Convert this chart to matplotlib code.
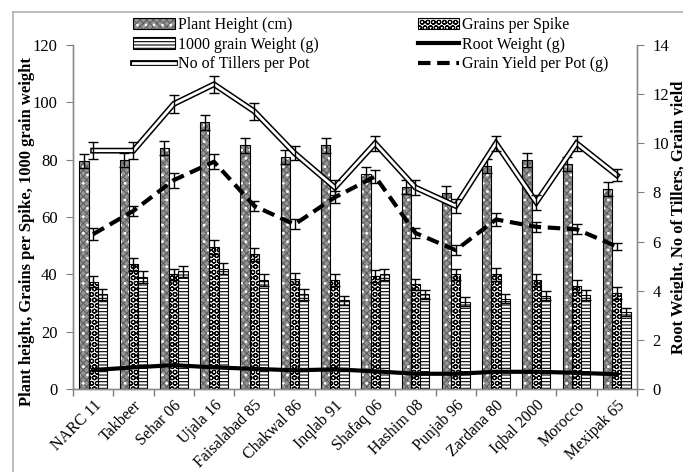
import numpy as np
import matplotlib
matplotlib.use("Agg")
import matplotlib.pyplot as plt
from matplotlib.patches import Patch
from matplotlib.lines import Line2D
from matplotlib.legend_handler import HandlerTuple

plt.rcParams['font.family'] = ['Liberation Serif', 'DejaVu Serif']
plt.rcParams['hatch.linewidth'] = 0.8

varieties = ["NARC 11", "Takbeer", "Sehar 06", "Ujala 16", "Faisalabad 85", "Chakwal 86",
             "Inqlab 91", "Shafaq 06", "Hashim 08", "Punjab 96", "Zardana 80", "Iqbal 2000",
             "Morocco", "Mexipak 65"]

plant_height = [79.5, 80.0, 84.0, 93.0, 85.0, 81.0, 85.0, 75.0, 70.5, 68.2, 77.8, 79.8, 78.5, 69.7]
plant_height_err = [2.5, 2.5, 2.5, 2.7, 2.5, 2.5, 2.5, 2.5, 2.5, 2.5, 2.5, 2.5, 2.5, 2.5]
grains_spike = [37.5, 43.5, 40.0, 49.5, 47.0, 38.5, 38.0, 39.5, 36.5, 40.0, 40.0, 38.0, 36.0, 33.5]
grains_spike_err = [2.0, 2.2, 2.0, 2.5, 2.3, 2.0, 2.0, 2.0, 2.0, 2.0, 2.2, 2.0, 2.0, 2.0]
grain_weight = [33.0, 39.0, 41.0, 42.0, 38.0, 33.0, 31.0, 40.0, 33.0, 30.5, 31.5, 32.6, 32.8, 27.0]
grain_weight_err = [1.8, 2.0, 2.0, 2.0, 2.0, 1.8, 1.6, 2.0, 1.6, 1.6, 1.6, 1.6, 1.6, 1.4]

root_weight = [0.77, 0.88, 0.97, 0.88, 0.82, 0.76, 0.80, 0.72, 0.62, 0.62, 0.70, 0.70, 0.66, 0.60]
tillers = [9.7, 9.7, 11.6, 12.4, 11.3, 9.6, 8.2, 10.0, 8.2, 7.45, 10.0, 7.6, 10.0, 8.7]
tillers_err = [0.35, 0.35, 0.35, 0.35, 0.35, 0.3, 0.3, 0.3, 0.3, 0.3, 0.3, 0.3, 0.3, 0.25]
grain_yield = [6.3, 7.25, 8.5, 9.25, 7.45, 6.7, 7.8, 8.65, 6.35, 5.65, 6.9, 6.6, 6.5, 5.8]
grain_yield_err = [0.25, 0.2, 0.3, 0.3, 0.2, 0.2, 0.25, 0.25, 0.2, 0.2, 0.25, 0.2, 0.2, 0.15]

W, H = 683, 472
fig = plt.figure(figsize=(W / 100, H / 100), dpi=100)
ax = fig.add_axes([73 / W, 1 - 389 / H, (637 - 73) / W, (389 - 45) / H])
ax2 = ax.twinx()

x = np.arange(len(varieties))
bw = 0.23
ekw = dict(ecolor='black', elinewidth=1, capsize=3.5, capthick=1)

# Plant height: grey with white dots
xp = x - bw
ax.bar(xp, plant_height, bw, color='#959595', edgecolor='#606060', hatch='xxxxx', linewidth=0, zorder=2)
ax.bar(xp, plant_height, bw, color='none', edgecolor='white', hatch='..', linewidth=0, zorder=3)
ax.bar(xp, plant_height, bw, color='none', edgecolor='black', linewidth=0.8, zorder=4)
ax.errorbar(xp, plant_height, yerr=plant_height_err, fmt='none', zorder=5, **ekw)

# Grains per spike: circles
ax.bar(x, grains_spike, bw, color='white', edgecolor='black', hatch='OOO', linewidth=0.8, zorder=2)
ax.errorbar(x, grains_spike, yerr=grains_spike_err, fmt='none', zorder=5, **ekw)

# 1000 grain weight: horizontal stripes
xg = x + bw
ax.bar(xg, grain_weight, bw, color='white', edgecolor='black', hatch='-----', linewidth=0.8, zorder=2)
ax.errorbar(xg, grain_weight, yerr=grain_weight_err, fmt='none', zorder=5, **ekw)

# lines on right axis
ax2.plot(x, root_weight, color='black', lw=3, zorder=3)
ax2.plot(x, tillers, color='black', lw=4.2, zorder=3, solid_joinstyle='miter')
ax2.plot(x, tillers, color='white', lw=2.0, zorder=4, solid_joinstyle='miter')
ax2.errorbar(x, tillers, yerr=tillers_err, fmt='none', zorder=5, **ekw)
ax2.plot(x, grain_yield, color='black', lw=3, ls=(0, (3, 1.6)), zorder=3)
ax2.errorbar(x, grain_yield, yerr=grain_yield_err, fmt='none', zorder=5, **ekw)

ax.set_xlim(-0.5, len(varieties) - 0.5)
ax.set_ylim(0, 120)
ax2.set_ylim(0, 14)
ax.set_yticks(np.arange(0, 121, 20))
ax2.set_yticks(np.arange(0, 15, 2))
ax.set_xticks(x)
ax.set_xticklabels(varieties, rotation=45, ha='right', rotation_mode='anchor', fontsize=11.5)
ax.set_xticks(np.arange(-0.5, len(varieties), 1), minor=True)
ax.tick_params(axis='x', which='major', length=0, pad=6)
ax.tick_params(axis='x', which='minor', length=5, color='#808080', width=1, direction='out')
ax.tick_params(axis='y', length=5, color='#808080', labelsize=12, pad=6)
ax2.tick_params(axis='y', length=5, color='#808080', labelsize=12, pad=6)

for a in (ax, ax2):
    a.spines['top'].set_visible(False)
    for s in ('left', 'right', 'bottom'):
        a.spines[s].set_color('#8c8c8c')
        a.spines[s].set_linewidth(1)

fig.text(27 / W, 1 - 232 / H, "Plant height, Grains per Spike, 1000 grain weight",
         rotation=90, ha='center', va='center', fontsize=12, fontweight='bold')
fig.text(679 / W, 1 - 217 / H, "Root Weight, No of Tillers, Grain yield",
         rotation=90, ha='center', va='center', fontsize=12, fontweight='bold')

# legend
h_ph = (Patch(facecolor='#959595', edgecolor='#606060', hatch='xxxxx', linewidth=0),
        Patch(facecolor='none', edgecolor='white', hatch='..', linewidth=0),
        Patch(facecolor='none', edgecolor='black', linewidth=0.8))
h_gw = Patch(facecolor='white', edgecolor='black', hatch='-----', linewidth=0.8)
h_til = (Line2D([], [], color='black', lw=4.2), Line2D([], [], color='white', lw=2.0))
h_gs = Patch(facecolor='white', edgecolor='black', hatch='OOO', linewidth=0.8)
h_root = Line2D([], [], color='black', lw=3)
h_yield = Line2D([], [], color='black', lw=3, ls=(0, (3, 1.6)))
handles = [h_ph, h_gw, h_til, h_gs, h_root, h_yield]
labels = ["Plant Height (cm)", "1000 grain Weight (g)", "No of Tillers per Pot",
          "Grains per Spike", "Root Weight (g)", "Grain Yield per Pot (g)"]
fig.legend(handles, labels, ncol=2, loc='upper left', bbox_to_anchor=(133 / W, 1 - 17 / H),
           frameon=False, fontsize=11.5, handlelength=2.6, handletextpad=0.2,
           columnspacing=6.2, labelspacing=0.23, borderaxespad=0, borderpad=0,
           handler_map={tuple: HandlerTuple(ndivide=1, pad=0)})

# figure border
fig.add_artist(Line2D([13 / W, 13 / W], [0, 1 - 12 / H], color='#b0b0b0', lw=1.2, transform=fig.transFigure))
fig.add_artist(Line2D([13 / W, 1], [1 - 12 / H, 1 - 12 / H], color='#b0b0b0', lw=1.2, transform=fig.transFigure))

fig.savefig("out.png", dpi=100)
